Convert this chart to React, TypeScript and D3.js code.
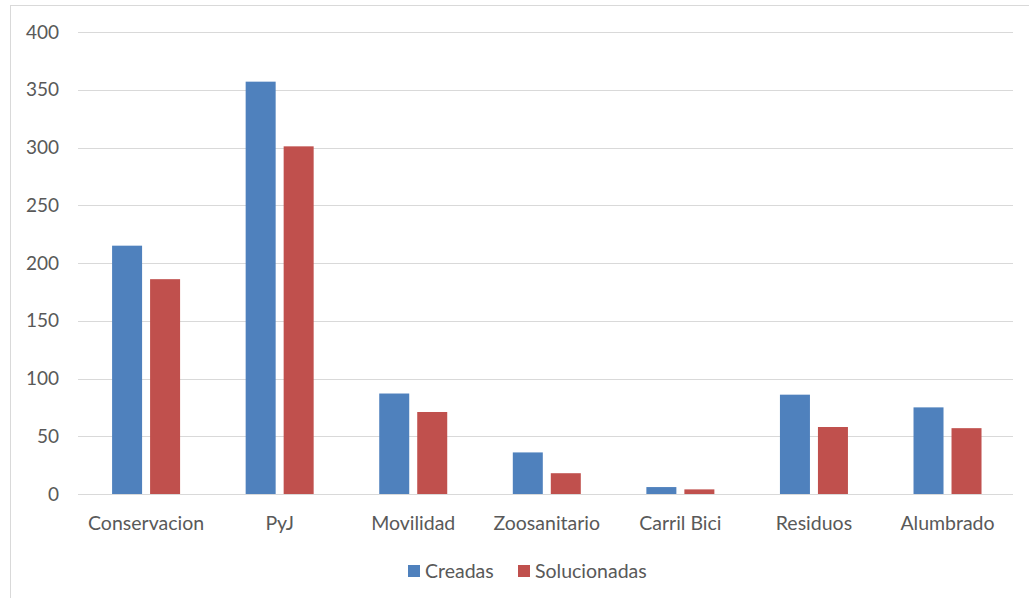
import React, { useEffect, useRef } from 'react';
import * as d3 from 'd3';

const categories = ['Conservacion', 'PyJ', 'Movilidad', 'Zoosanitario', 'Carril Bici', 'Residuos', 'Alumbrado'];
const seriesNames = ['Creadas', 'Solucionadas'];
const creadas = [215, 357, 87, 36, 6, 86, 75];
const solucionadas = [186, 301, 71, 18, 4, 58, 57];
const yTicks = [0, 50, 100, 150, 200, 250, 300, 350, 400];

const colors = ['#4F81BD', '#C0504D'];
const font = 'Lato, "Open Sans", sans-serif';

const App: React.FC = () => {
  const svgRef = useRef<SVGSVGElement>(null);

  useEffect(() => {
    if (!svgRef.current) return;
    const width = 1029;
    const height = 598;
    const left = 78, right = 1013, top = 32, bottom = 494;

    const svg = d3.select(svgRef.current).attr('width', width).attr('height', height);
    svg.selectAll('*').remove();

    // chart border
    svg.append('rect')
      .attr('x', 10.5).attr('y', 5.5)
      .attr('width', width + 20).attr('height', height + 20)
      .attr('fill', 'white').attr('stroke', '#d9d9d9');

    const x0 = d3.scaleBand().domain(categories).range([left + 1.3, right + 1.3]);
    const x1 = d3.scaleBand().domain(seriesNames).range([0, 68]).paddingInner(8 / 38);
    const y = d3.scaleLinear().domain([0, 400]).range([bottom, top]);

    // gridlines
    svg.append('g')
      .selectAll('line')
      .data(yTicks.filter(t => t > 0))
      .enter()
      .append('line')
      .attr('x1', left).attr('x2', right)
      .attr('y1', d => Math.round(y(d)) + 0.5)
      .attr('y2', d => Math.round(y(d)) + 0.5)
      .attr('stroke', '#d9d9d9').attr('stroke-width', 1);

    // y labels
    svg.append('g')
      .selectAll('text')
      .data(yTicks)
      .enter()
      .append('text')
      .attr('x', 59)
      .attr('y', d => y(d))
      .attr('dy', '0.35em')
      .attr('text-anchor', 'end')
      .attr('font-family', font).attr('font-size', 19).attr('fill', '#595959')
      .text(d => d);

    // bars
    const values = [creadas, solucionadas];
    const offset = (x0.bandwidth() - 68) / 2;
    seriesNames.forEach((s, si) => {
      svg.append('g')
        .selectAll('rect')
        .data(categories)
        .enter()
        .append('rect')
        .attr('x', c => (x0(c) as number) + offset + (x1(s) as number))
        .attr('y', (c, i) => y(values[si][i]))
        .attr('width', x1.bandwidth())
        .attr('height', (c, i) => bottom - y(values[si][i]))
        .attr('fill', colors[si]);
    });

    // baseline
    svg.append('line')
      .attr('x1', left).attr('x2', right)
      .attr('y1', bottom + 0.5).attr('y2', bottom + 0.5)
      .attr('stroke', '#d9d9d9').attr('stroke-width', 1);

    // category labels
    svg.append('g')
      .selectAll('text')
      .data(categories)
      .enter()
      .append('text')
      .attr('x', c => (x0(c) as number) + x0.bandwidth() / 2)
      .attr('y', 530)
      .attr('text-anchor', 'middle')
      .attr('font-family', font).attr('font-size', 19.5).attr('fill', '#595959')
      .text(c => c);

    // legend
    const legendX = [408, 518];
    seriesNames.forEach((s, si) => {
      svg.append('rect')
        .attr('x', legendX[si]).attr('y', 565)
        .attr('width', 12).attr('height', 12)
        .attr('fill', colors[si]);
      svg.append('text')
        .attr('x', legendX[si] + 17).attr('y', 571)
        .attr('dy', '0.35em')
        .attr('font-family', font).attr('font-size', 19.5).attr('fill', '#595959')
        .text(s);
    });
  }, []);

  return <svg ref={svgRef} style={{ position: 'absolute', left: 0, top: 0 }} />;
};

export default App;
